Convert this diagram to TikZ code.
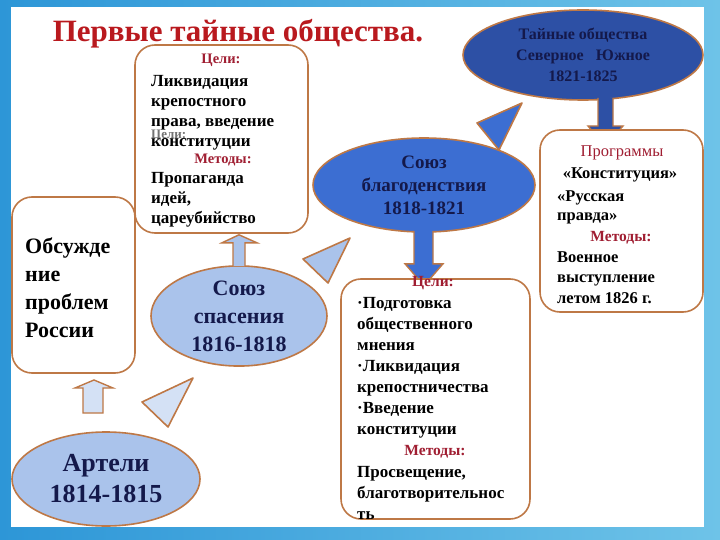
\documentclass[tikz,border=0pt]{standalone}
\usepackage{fontspec}
\setmainfont{Liberation Serif}
\usetikzlibrary{shapes.geometric,calc}
\definecolor{brd}{RGB}{190,120,70}
\definecolor{lblue}{RGB}{170,195,235}
\definecolor{vlblue}{RGB}{212,225,245}
\definecolor{mblue}{RGB}{60,110,210}
\definecolor{dblue}{RGB}{45,80,165}
\definecolor{navy}{RGB}{20,25,75}
\definecolor{hdrc}{RGB}{160,30,50}
\definecolor{ttl}{RGB}{185,25,30}
\definecolor{bgL}{RGB}{45,150,215}
\definecolor{bgR}{RGB}{110,195,232}
\tikzset{
  rbox/.style={draw=brd, line width=1.6pt, fill=white, rounded corners=20pt, inner sep=0pt},
  ell/.style={ellipse, draw=brd, line width=1.6pt, inner sep=0pt, align=center, text=navy},
  bodytxt/.style={anchor=base west, inner sep=0pt, font=\fontsize{17}{20}\selectfont\bfseries},
  hdrtxt/.style={anchor=base, inner sep=0pt, text=hdrc, font=\fontsize{14.5}{17}\selectfont\bfseries},
  barrow/.style={draw=brd, line width=1.4pt, line join=miter},
  tri/.style={draw=brd, line width=1.6pt, line join=round}
}
\begin{document}
\begin{tikzpicture}[x=1pt,y=-1pt]
\useasboundingbox (0,0) rectangle (720,540);
\shade[left color=bgL, right color=bgR] (0,0) rectangle (720,540);
\fill[white] (11,7) rectangle (704,527);

% title
\node[anchor=base, inner sep=0pt, text=ttl, font=\fontsize{31}{34}\selectfont\bfseries] (title) at (238,42) {Первые тайные общества.};

% ellipses
\node[ell, fill=lblue, minimum width=176, minimum height=94, font=\fontsize{22}{28}\selectfont\bfseries] (spas) at (239,316) {Союз\\спасения\\1816-1818};
\node[ell, fill=lblue, minimum width=188, minimum height=94, font=\fontsize{26}{31}\selectfont\bfseries] (artel) at (106,479) {Артели\\1814-1815};
\node[ell, fill=mblue, minimum width=222, minimum height=94, font=\fontsize{19}{23}\selectfont\bfseries] (blago) at (424,185) {Союз\\благоденствия\\1818-1821};
\node[ell, fill=dblue, minimum width=240, minimum height=90, font=\fontsize{16}{21}\selectfont\bfseries] (secret) at (583,55) {Тайные общества\\Северное\ \ \ Южное\\1821-1825};

% block arrows (drawn before the boxes they point into)
\coordinate (a2b) at (93,413);
\coordinate (a2t) at (94,380);
\coordinate (a1b) at ($(spas.north)+(0,1)$);
\coordinate (a3t) at ($(blago.south)+(0,-2)$);
\coordinate (a4t) at (605,98);

\draw[barrow, fill=dblue] ($(a4t)+(-7,0)$) -- ($(a4t)+(-7,28)$) -- ($(a4t)+(-17,28)$) -- ($(a4t)+(0,48)$) -- ($(a4t)+(18,28)$) -- ($(a4t)+(8,28)$) -- ($(a4t)+(8,0)$);
\draw[barrow, fill=mblue] ($(a3t)+(-10,0)$) -- ($(a3t)+(-10,33)$) -- ($(a3t)+(-19,33)$) -- ($(a3t)+(0,55)$) -- ($(a3t)+(19,33)$) -- ($(a3t)+(9,33)$) -- ($(a3t)+(9,0)$);

% boxes
\node[rbox, minimum width=173, minimum height=188] (goals1) at (221.5,139) {};
\node[rbox, minimum width=123, minimum height=176] (discuss) at (73.5,285) {};
\node[rbox, minimum width=163, minimum height=182] (prog) at (621.5,221) {};
\node[rbox, minimum width=189, minimum height=240] (goals2) at (435.5,399) {};

% up arrows
\coordinate (a1t) at (goals1.south -| spas.north);
\draw[barrow, fill=lblue] ($(a1b)+(-6,0)$) -- ($(a1t)+(-6,9)$) -- ($(a1t)+(-17,9)$) -- ($(a1t)+(0,1)$) -- ($(a1t)+(18,9)$) -- ($(a1t)+(6,9)$) -- ($(a1b)+(6,0)$);
\draw[barrow, fill=vlblue] ($(a2b)+(-10,0)$) -- ($(a2b)+(-10,-25)$) -- ($(a2b)+(-18,-25)$) -- (a2t) -- ($(a2b)+(20,-25)$) -- ($(a2b)+(10,-25)$) -- ($(a2b)+(10,0)$) -- cycle;

% triangles
\draw[tri, fill=lblue] (303,259) -- (350,238) -- (328,283) -- cycle;
\draw[tri, fill=mblue] (477,123) -- (522,103) -- (499,150) -- cycle;
\draw[tri, fill=vlblue] (142,402) -- (193,378) -- (168,427) -- cycle;

% goals1 text
\node[hdrtxt] (g1h) at (221,64) {Цели:};
\node[bodytxt, text=black!55, font=\fontsize{13}{15}\selectfont\bfseries] (g1ghost) at (151,139) {Цели:};
\foreach \t [count=\i from 0] in {Ликвидация,крепостного,{права, введение},конституции}
  \node[bodytxt] (g1a\i) at (151,87+20*\i) {\t};
\node[hdrtxt] (g1m) at (223,164) {Методы:};
\foreach \t [count=\i from 0] in {Пропаганда,{идей,},цареубийство}
  \node[bodytxt] (g1b\i) at (151,184+20*\i) {\t};

% discuss text
\foreach \t [count=\i from 0] in {Обсужде,ние,проблем,России}
  \node[bodytxt, font=\fontsize{22}{26}\selectfont\bfseries] (d\i) at (25,253+28*\i) {\t};

% prog text
\node[anchor=base, inner sep=0pt, text=hdrc, font=\fontsize{16.5}{19}\selectfont] (ph) at (622,157) {Программы};
\node[anchor=base, inner sep=0pt, font=\fontsize{16.5}{19}\selectfont\bfseries] (pk) at (620,179) {«Конституция»};
\node[bodytxt, font=\fontsize{16.5}{19}\selectfont\bfseries] (pr1) at (557,202) {«Русская};
\node[bodytxt, font=\fontsize{16.5}{19}\selectfont\bfseries] (pr2) at (557,221) {правда»};
\node[hdrtxt, font=\fontsize{15.5}{18}\selectfont\bfseries] (pm) at (621,241) {Методы:};
\foreach \t [count=\i from 0] in {Военное,выступление,летом 1826 г.}
  \node[bodytxt, font=\fontsize{16.5}{19}\selectfont\bfseries] (pv\i) at (557,262+20.5*\i) {\t};

% goals2 text
\node[hdrtxt, font=\fontsize{15.5}{18}\selectfont\bfseries] (g2h) at (433,286) {Цели:};
\foreach \t [count=\i from 0] in {·Подготовка,общественного,мнения,·Ликвидация,крепостничества,·Введение,конституции}
  \node[bodytxt] (g2a\i) at (357,308+21*\i) {\t};
\node[hdrtxt, font=\fontsize{15.5}{18}\selectfont\bfseries] (g2m) at (435,455) {Методы:};
\foreach \t [count=\i from 0] in {{Просвещение,},благотворительнос,ть}
  \node[bodytxt] (g2b\i) at (357,477+21*\i) {\t};
\end{tikzpicture}
\end{document}
